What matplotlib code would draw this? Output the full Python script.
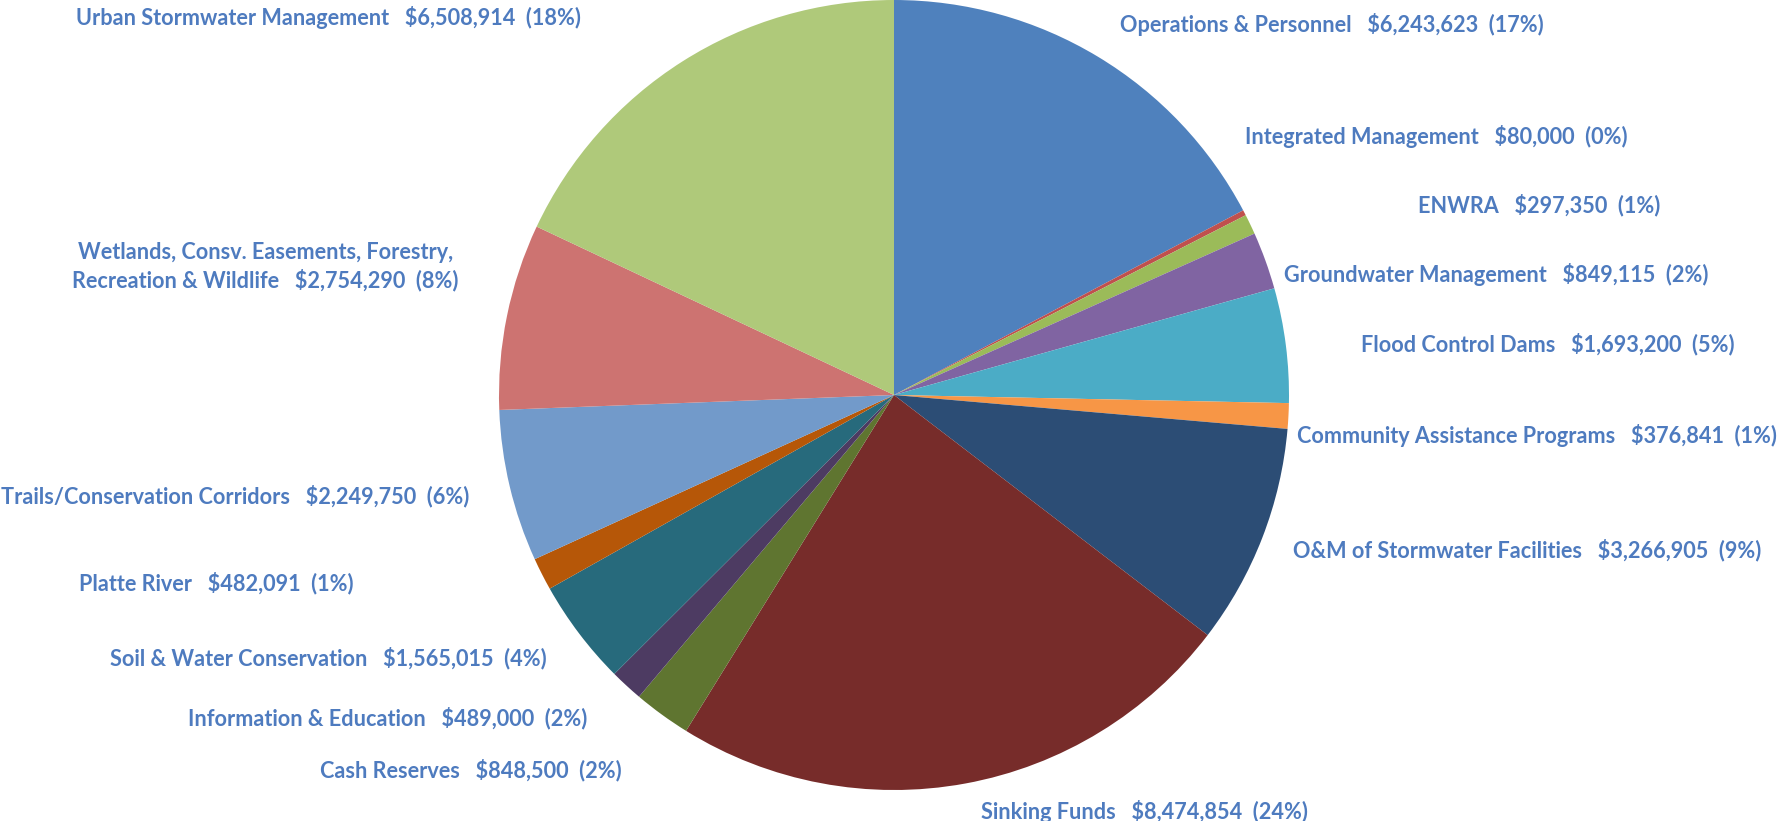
import numpy as np
import matplotlib.pyplot as plt

names = ['Operations & Personnel', 'Integrated Management', 'ENWRA', 'Groundwater Management',
         'Flood Control Dams', 'Community Assistance Programs', 'O&M of Stormwater Facilities',
         'Sinking Funds', 'Cash Reserves', 'Information & Education', 'Soil & Water Conservation',
         'Platte River', 'Trails/Conservation Corridors',
         'Wetlands, Consv. Easements, Forestry,\nRecreation & Wildlife', 'Urban Stormwater Management']
amounts = [6243623, 80000, 297350, 849115, 1693200, 376841, 3266905, 8474854,
           848500, 489000, 1565015, 482091, 2249750, 2754290, 6508914]
pct_text = ['17%', '0%', '1%', '2%', '5%', '1%', '9%', '24%', '2%', '2%', '4%', '1%', '6%', '8%', '18%']
colors = ['#4F81BD', '#C0504D', '#9BBB59', '#8064A2', '#4BACC6', '#F79646', '#2C4D75', '#772C2A',
          '#5F7530', '#4D3B62', '#276A7C', '#B65708', '#729ACA', '#CD7371', '#AFC97A']

# label placement, in pixels of the shrunk reference (x, y from top, alignment)
W, H = 1779, 821
s = 1779 / 1568
lab_pos = [(987, 22, 'left'), (1097, 120, 'left'), (1250, 181, 'left'), (1132, 242, 'left'),
           (1200, 303, 'left'), (1143, 384, 'left'), (1140, 485, 'left'), (865, 715, 'left'),
           (548, 679, 'right'), (518, 633, 'right'), (482, 580, 'right'), (312, 514, 'right'),
           (414, 437, 'right'), (234, 235, 'center'), (512, 15, 'right')]

txt_color = '#4E7BBF'
fam = ['Lato', 'DejaVu Sans']

fig = plt.figure(figsize=(W / 100, H / 100), dpi=100)
ax = fig.add_axes([0, 0, 1, 1])

cx, cy, R = 894, H - 395, 395
ax.pie(amounts, colors=colors, startangle=90, counterclock=False, center=(cx, cy), radius=R,
       wedgeprops=dict(linewidth=0), frame=True)
ax.set_xlim(0, W)
ax.set_ylim(0, H)
ax.axis('off')

def label(i):
    t = names[i] + '   $' + format(amounts[i], ',') + '  (' + pct_text[i] + ')'
    return t

# pick one font size so that the Operations label is as wide as in the reference
r = fig.canvas.get_renderer()
probe = ax.text(0, 0, label(0), fontsize=15, fontweight='bold', family=fam)
w0 = probe.get_window_extent(r).width
probe.remove()
fs = 15 * (375 * s) / w0

for i in range(len(names)):
    x, y, ha = lab_pos[i]
    ax.text(x * s, H - y * s, label(i), ha=ha, va='center', color=txt_color, fontsize=fs,
            fontweight='bold', family=fam, multialignment='center', linespacing=1.3)

fig.savefig('out.png', dpi=100, facecolor='white')
